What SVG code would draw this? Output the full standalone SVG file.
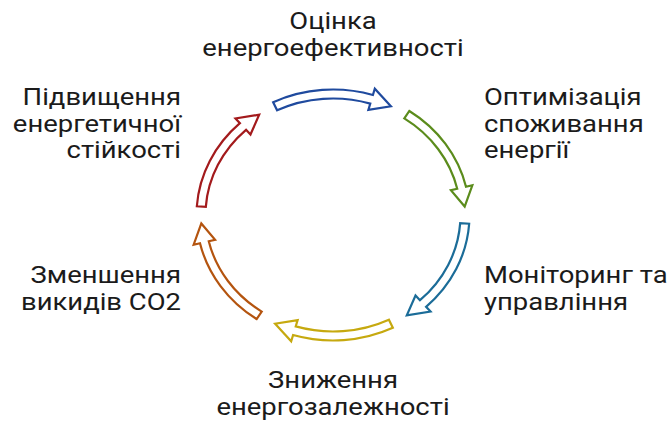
<svg xmlns="http://www.w3.org/2000/svg" width="668" height="425" viewBox="0 0 668 425">
<style>
.lbl{font-family:Roboto,"Liberation Sans",sans-serif;font-size:24.5px;fill:#1b1b1b}
.c{text-anchor:middle}.r{text-anchor:end}
.arr{fill:#ffffff;stroke-width:2.2;stroke-linejoin:miter}
</style>
<rect width="668" height="425" fill="#ffffff"/>
<g id="connectors">
<path class="arr" stroke="#1f4a9e" d="M273.16,102.20 A136.5,125.5 0 0 1 372.91,94.98 L374.81,88.77 L390.87,106.25 L368.38,109.81 L370.28,103.59 A127.5,116.5 0 0 0 277.10,110.29 Z"/>
<path class="arr" stroke="#5b8c1c" d="M409.33,110.96 A136.5,125.5 0 0 1 466.00,186.76 L472.34,185.30 L464.68,206.55 L450.90,190.25 L457.24,188.79 A127.5,116.5 0 0 0 404.30,118.42 Z"/>
<path class="arr" stroke="#1b6c98" d="M469.17,223.76 A136.5,125.5 0 0 1 426.09,306.79 L430.53,311.54 L406.81,315.31 L415.52,295.45 L419.96,300.21 A127.5,116.5 0 0 0 460.19,223.13 Z"/>
<path class="arr" stroke="#c6a90f" d="M392.84,327.80 A136.5,125.5 0 0 1 293.09,335.02 L291.19,341.23 L275.13,323.75 L297.62,320.19 L295.72,326.41 A127.5,116.5 0 0 0 388.90,319.71 Z"/>
<path class="arr" stroke="#b4540f" d="M256.67,319.04 A136.5,125.5 0 0 1 200.00,243.24 L193.66,244.70 L201.32,223.45 L215.10,239.75 L208.76,241.21 A127.5,116.5 0 0 0 261.70,311.58 Z"/>
<path class="arr" stroke="#a31a1c" d="M196.83,206.24 A136.5,125.5 0 0 1 239.91,123.21 L235.47,118.46 L259.19,114.69 L250.48,134.55 L246.04,129.79 A127.5,116.5 0 0 0 205.81,206.87 Z"/>
</g>
<g id="n1"><g transform="translate(333,29) scale(1.12,1)"><text class="lbl c">Оцінка</text></g><g transform="translate(333,56) scale(1.12,1)"><text class="lbl c">енергоефективності</text></g></g>
<g id="n2"><g transform="translate(484,105) scale(1.12,1)"><text class="lbl">Оптимізація</text></g><g transform="translate(484,132) scale(1.12,1)"><text class="lbl">споживання</text></g><g transform="translate(484,158) scale(1.12,1)"><text class="lbl">енергії</text></g></g>
<g id="n3"><g transform="translate(484,283) scale(1.12,1)"><text class="lbl">Моніторинг та</text></g><g transform="translate(484,310) scale(1.12,1)"><text class="lbl">управління</text></g></g>
<g id="n4"><g transform="translate(333,388) scale(1.12,1)"><text class="lbl c">Зниження</text></g><g transform="translate(333,415) scale(1.12,1)"><text class="lbl c">енергозалежності</text></g></g>
<g id="n5"><g transform="translate(181,283) scale(1.12,1)"><text class="lbl r">Зменшення</text></g><g transform="translate(181,310) scale(1.12,1)"><text class="lbl r">викидів СО2</text></g></g>
<g id="n6"><g transform="translate(181,105) scale(1.12,1)"><text class="lbl r">Підвищення</text></g><g transform="translate(181,132) scale(1.12,1)"><text class="lbl r">енергетичної</text></g><g transform="translate(181,158) scale(1.12,1)"><text class="lbl r">стійкості</text></g></g>
</svg>
